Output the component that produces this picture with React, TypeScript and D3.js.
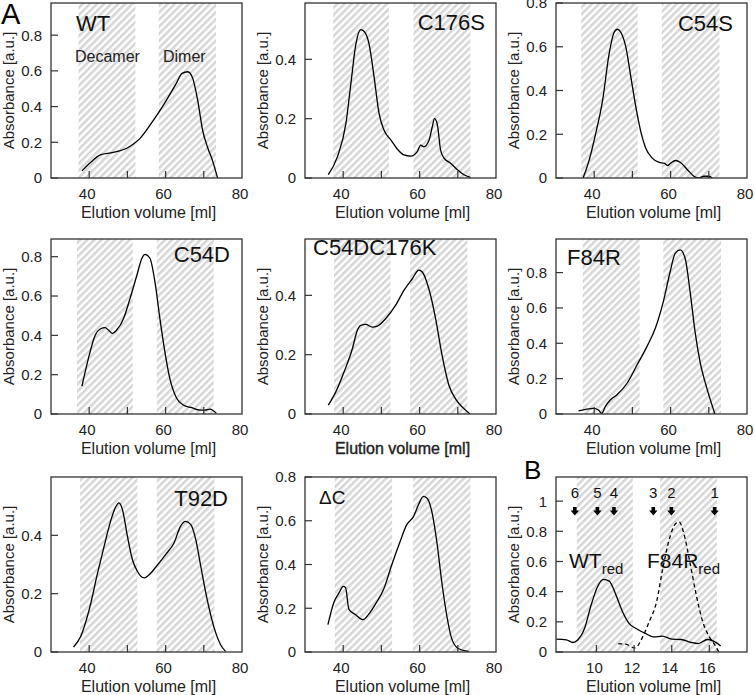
import React from 'react';
import * as d3 from 'd3';

// ---------- data ----------
const WT_VOL = [38.1, 40.5, 42.9, 46.3, 50.2, 53.2, 56.7, 60.2, 62.8, 64.3, 65.8, 67.1, 68.4, 69.7, 71.0, 72.3, 73.6];
const WT_ABS = [0.04, 0.09, 0.13, 0.143, 0.171, 0.219, 0.32, 0.435, 0.53, 0.586, 0.595, 0.558, 0.435, 0.266, 0.171, 0.096, 0];

const C176S_VOL = [36.1, 38.5, 40.7, 42.0, 43.3, 44.6, 45.5, 46.8, 48.1, 49.4, 50.7, 52.5, 54.2, 55.9, 57.7, 59.4, 60.3, 61.1, 62.5, 63.3, 63.9, 64.6, 65.5, 66.4, 68.1, 69.9, 71.6, 73.3];
const C176S_ABS = [0.011, 0.072, 0.183, 0.317, 0.45, 0.5, 0.494, 0.45, 0.339, 0.217, 0.161, 0.128, 0.097, 0.078, 0.074, 0.089, 0.111, 0.105, 0.128, 0.172, 0.2, 0.183, 0.094, 0.067, 0.05, 0.028, 0.011, 0.002];

const C54S_VOL = [37.1, 38.7, 40.4, 42.2, 43.9, 45.2, 46.1, 47.0, 48.3, 49.6, 50.9, 52.2, 53.5, 55.2, 57.0, 58.3, 59.2, 60.0, 61.3, 62.6, 64.4, 66.1, 67.4, 68.7, 70.0, 70.9];
const C54S_ABS = [0, 0.083, 0.204, 0.355, 0.567, 0.665, 0.68, 0.665, 0.597, 0.461, 0.325, 0.212, 0.136, 0.091, 0.071, 0.068, 0.057, 0.068, 0.08, 0.071, 0.038, 0.008, 0, 0.008, 0.008, 0];

const C54D_VOL = [38.1, 39.8, 41.6, 42.9, 44.2, 45.0, 46.1, 47.2, 49.0, 50.7, 52.5, 53.8, 54.6, 55.9, 57.2, 58.5, 59.8, 61.1, 62.9, 64.6, 66.8, 69.0, 70.3, 71.6, 73.3];
const C54D_ABS = [0.142, 0.283, 0.402, 0.432, 0.439, 0.427, 0.41, 0.427, 0.486, 0.588, 0.707, 0.792, 0.812, 0.792, 0.673, 0.486, 0.317, 0.181, 0.08, 0.046, 0.032, 0.02, 0.02, 0.025, 0.003];

const C54DC176K_VOL = [36.1, 38.0, 40.2, 42.4, 43.7, 44.6, 45.9, 47.6, 48.9, 51.1, 53.7, 55.9, 58.1, 59.8, 60.7, 62.4, 64.2, 65.9, 67.7, 69.4, 71.2, 73.2];
const C54DC176K_ABS = [0.03, 0.073, 0.141, 0.22, 0.282, 0.299, 0.302, 0.293, 0.296, 0.321, 0.366, 0.417, 0.456, 0.485, 0.479, 0.423, 0.321, 0.197, 0.096, 0.051, 0.023, 0];

const F84R_VOL = [35.9, 38.1, 39.8, 41.1, 42.0, 42.9, 44.2, 45.9, 48.6, 51.2, 53.8, 56.0, 58.1, 59.9, 61.2, 62.5, 63.8, 65.1, 66.4, 67.7, 69.5, 71.6];
const F84R_ABS = [0.017, 0.028, 0.032, 0.023, 0.004, 0.042, 0.079, 0.108, 0.174, 0.277, 0.381, 0.485, 0.636, 0.806, 0.909, 0.928, 0.881, 0.692, 0.466, 0.296, 0.145, 0];

const T92D_VOL = [35.9, 37.8, 40.0, 42.2, 43.9, 45.7, 47.0, 47.8, 48.7, 50.0, 51.3, 52.6, 54.4, 55.7, 57.9, 60.0, 62.2, 63.9, 65.2, 66.6, 67.9, 69.2, 70.9, 72.6, 74.4, 75.7];
const T92D_ABS = [0.017, 0.054, 0.145, 0.271, 0.362, 0.453, 0.499, 0.511, 0.488, 0.397, 0.317, 0.277, 0.254, 0.265, 0.299, 0.334, 0.374, 0.431, 0.448, 0.437, 0.385, 0.294, 0.179, 0.088, 0.025, 0.002];

const DC_VOL = [36.0, 37.6, 38.9, 40.0, 40.6, 41.5, 43.2, 45.2, 46.6, 48.8, 50.5, 52.7, 54.9, 56.6, 58.4, 59.7, 61.0, 61.9, 63.2, 64.5, 65.8, 67.1, 68.4, 70.2, 72.8];
const DC_ABS = [0.125, 0.229, 0.27, 0.3, 0.295, 0.195, 0.171, 0.148, 0.171, 0.229, 0.283, 0.398, 0.505, 0.581, 0.619, 0.673, 0.711, 0.704, 0.642, 0.505, 0.321, 0.168, 0.061, 0.015, 0.003];

const WTRED_VOL = [7.86, 8.4, 8.75, 9.0, 9.37, 9.72, 10.07, 10.37, 10.68, 11.03, 11.38, 11.73, 12.08, 12.6, 13.04, 13.5, 14.0, 14.5, 15.04, 15.4, 15.9, 16.3, 16.6];
const WTRED_ABS = [0.085, 0.08, 0.063, 0.079, 0.157, 0.313, 0.436, 0.481, 0.47, 0.38, 0.268, 0.19, 0.157, 0.123, 0.1, 0.105, 0.085, 0.083, 0.063, 0.056, 0.083, 0.067, 0.04];

const F84RRED_VOL = [11.16, 11.6, 12.03, 12.5, 12.8, 13.2, 13.5, 13.85, 14.2, 14.4, 14.6, 14.95, 15.3, 15.65, 16.0, 16.3, 16.5];
const F84RRED_ABS = [0.056, 0.05, 0.027, 0.112, 0.2, 0.336, 0.537, 0.738, 0.85, 0.862, 0.805, 0.604, 0.38, 0.2, 0.1, 0.045, 0];

const MARKER_VOL = [8.85, 10.05, 10.93, 13.02, 13.98, 16.28];
const MARKER_LABELS = ['6', '5', '4', '3', '2', '1'];

const X_TICKS_A = [40, 50, 60, 70];
const X_LABELS_A = [40, 60, 80];
const X_TICKS_B = [10, 12, 14, 16];

// ---------- layout ----------
const COL_X = [51, 305, 556];
const ROW_Y = [3, 239, 477];
const PW = 191;
const PH = 175;
const FONT = "'Liberation Sans', Arial, Helvetica, sans-serif";

type Series = { vol: number[]; abs: number[]; dashed?: boolean };
type Panel = {
  key: string;
  col: number;
  row: number;
  xDomain: [number, number];
  yMax: number;
  yTicks: number[];
  xTicks: number[];
  xLabels: number[];
  regions: [number, number][];
  series: Series[];
  label?: string;
  labelDx?: number;
  labelDy?: number;
  labelAnchor?: 'start' | 'end';
  labelSize?: number;
  boldAxis?: boolean;
};

const panels: Panel[] = [
  { key: 'wt', col: 0, row: 0, xDomain: [30, 80], yMax: 0.98, yTicks: [0, 0.2, 0.4, 0.6, 0.8], xTicks: X_TICKS_A, xLabels: X_LABELS_A,
    regions: [[37.2, 52.1], [58.2, 73.2]], series: [{ vol: WT_VOL, abs: WT_ABS }], label: 'WT', labelDx: 25, labelDy: 28, labelAnchor: 'start' },
  { key: 'c176s', col: 1, row: 0, xDomain: [30, 80], yMax: 0.59, yTicks: [0, 0.2, 0.4], xTicks: X_TICKS_A, xLabels: X_LABELS_A,
    regions: [[37.4, 52.0], [58.4, 73.3]], series: [{ vol: C176S_VOL, abs: C176S_ABS }], label: 'C176S', labelDx: 180, labelDy: 27, labelAnchor: 'end' },
  { key: 'c54s', col: 2, row: 0, xDomain: [30, 80], yMax: 0.8, yTicks: [0, 0.2, 0.4, 0.6, 0.8], xTicks: X_TICKS_A, xLabels: X_LABELS_A,
    regions: [[36.6, 51.4], [57.7, 72.8]], series: [{ vol: C54S_VOL, abs: C54S_ABS }], label: 'C54S', labelDx: 177, labelDy: 28, labelAnchor: 'end' },
  { key: 'c54d', col: 0, row: 1, xDomain: [30, 80], yMax: 0.89, yTicks: [0, 0.2, 0.4, 0.6, 0.8], xTicks: X_TICKS_A, xLabels: X_LABELS_A,
    regions: [[36.8, 51.4], [57.7, 72.6]], series: [{ vol: C54D_VOL, abs: C54D_ABS }], label: 'C54D', labelDx: 179, labelDy: 23, labelAnchor: 'end' },
  { key: 'c54dc176k', col: 1, row: 1, xDomain: [30, 80], yMax: 0.59, yTicks: [0, 0.2, 0.4], xTicks: X_TICKS_A, xLabels: X_LABELS_A,
    regions: [[37.6, 52.4], [57.5, 72.5]], series: [{ vol: C54DC176K_VOL, abs: C54DC176K_ABS }], label: 'C54DC176K', labelDx: 8, labelDy: 16, labelAnchor: 'start', boldAxis: true },
  { key: 'f84r', col: 2, row: 1, xDomain: [30, 80], yMax: 0.99, yTicks: [0, 0.2, 0.4, 0.6, 0.8], xTicks: X_TICKS_A, xLabels: X_LABELS_A,
    regions: [[37.0, 51.9], [58.1, 73.2]], series: [{ vol: F84R_VOL, abs: F84R_ABS }], label: 'F84R', labelDx: 11, labelDy: 26, labelAnchor: 'start' },
  { key: 't92d', col: 0, row: 2, xDomain: [30, 80], yMax: 0.6, yTicks: [0, 0.2, 0.4], xTicks: X_TICKS_A, xLabels: X_LABELS_A,
    regions: [[37.6, 52.6], [57.7, 72.8]], series: [{ vol: T92D_VOL, abs: T92D_ABS }], label: 'T92D', labelDx: 177, labelDy: 29, labelAnchor: 'end' },
  { key: 'dc', col: 1, row: 2, xDomain: [30, 80], yMax: 0.8, yTicks: [0, 0.2, 0.4, 0.6, 0.8], xTicks: X_TICKS_A, xLabels: X_LABELS_A,
    regions: [[37.8, 52.8], [58.3, 73.3]], series: [{ vol: DC_VOL, abs: DC_ABS }], label: '\u0394C', labelDx: 14, labelDy: 27, labelAnchor: 'start', labelSize: 19 },
  { key: 'b', col: 2, row: 2, xDomain: [7.85, 18], yMax: 1.16, yTicks: [0, 0.2, 0.4, 0.6, 0.8, 1], xTicks: X_TICKS_B, xLabels: X_TICKS_B,
    regions: [[8.95, 11.93], [13.38, 16.4]], series: [{ vol: WTRED_VOL, abs: WTRED_ABS }, { vol: F84RRED_VOL, abs: F84RRED_ABS, dashed: true }] },
];

const fmtY = (v: number) => (v === 0 ? '0' : v === 1 ? '1' : String(v));

function PanelView({ p }: { p: Panel }) {
  const x0 = COL_X[p.col];
  const y0 = ROW_Y[p.row];
  const x = d3.scaleLinear().domain(p.xDomain).range([x0, x0 + PW]);
  const y = d3.scaleLinear().domain([0, p.yMax]).range([y0 + PH, y0]);
  const line = d3
    .line<[number, number]>()
    .x((d) => x(d[0]))
    .y((d) => y(d[1]))
    .curve(d3.curveMonotoneX);
  const clipId = `clip-${p.key}`;
  return (
    <g>
      <defs>
        <clipPath id={clipId}>
          <rect x={x0} y={y0} width={PW} height={PH} />
        </clipPath>
      </defs>
      {p.regions.map(([a, b], i) => (
        <rect key={i} x={x(a)} y={y0} width={x(b) - x(a)} height={PH} fill="url(#hatch)" />
      ))}
      {p.series.map((s, i) => (
        <path
          key={i}
          d={line(s.vol.map((v, j) => [v, s.abs[j]] as [number, number])) || ''}
          fill="none"
          stroke="#000"
          strokeWidth={1.3}
          strokeDasharray={s.dashed ? '4,3' : undefined}
          clipPath={`url(#${clipId})`}
        />
      ))}
      <rect x={x0} y={y0} width={PW} height={PH} fill="none" stroke="#333" strokeWidth={1.3} />
      {p.yTicks.map((t) => (
        <g key={`y${t}`}>
          <line x1={x0} x2={x0 + 7} y1={y(t)} y2={y(t)} stroke="#333" strokeWidth={1.2} />
          <text x={x0 - 9} y={y(t)} dy="0.36em" textAnchor="end" fontSize={15} fill="#222">
            {fmtY(t)}
          </text>
        </g>
      ))}
      {p.xTicks.map((t) => (
        <line key={`x${t}`} x1={x(t)} x2={x(t)} y1={y0 + PH} y2={y0 + PH - 7} stroke="#333" strokeWidth={1.2} />
      ))}
      {p.xLabels.map((t) => (
        <text key={`xl${t}`} x={x(t) - 2} y={y0 + PH + 21} textAnchor="middle" fontSize={15} fill="#222">
          {t}
        </text>
      ))}
      <text
        x={x0 + PW / 2 + 2}
        y={y0 + PH + 40}
        textAnchor="middle"
        fontSize={16}
        fill="#222"
        stroke={p.boldAxis ? '#222' : undefined}
        strokeWidth={p.boldAxis ? 0.4 : undefined}
      >
        Elution volume [ml]
      </text>
      <text
        transform={`translate(${x0 - 37},${y0 + PH / 2}) rotate(-90)`}
        textAnchor="middle"
        fontSize={15}
        fill="#222"
      >
        Absorbance [a.u.]
      </text>
      {p.label && (
        <text
          x={x0 + (p.labelDx || 0)}
          y={y0 + (p.labelDy || 0)}
          textAnchor={p.labelAnchor}
          fontSize={p.labelSize || 22}
          fill="#111"
        >
          {p.label}
        </text>
      )}
    </g>
  );
}

function ArrowMarks({ p }: { p: Panel }) {
  const x0 = COL_X[p.col];
  const y0 = ROW_Y[p.row];
  const x = d3.scaleLinear().domain(p.xDomain).range([x0, x0 + PW]);
  return (
    <g>
      {MARKER_VOL.map((v, i) => {
        const cx = x(v);
        const top = y0 + 30;
        return (
          <g key={i}>
            <text x={cx} y={y0 + 21} textAnchor="middle" fontSize={15} fill="#111">
              {MARKER_LABELS[i]}
            </text>
            <path
              d={`M${cx - 1.8},${top} L${cx + 1.8},${top} L${cx + 1.8},${top + 3.5} L${cx + 4.2},${top + 3.5} L${cx},${top + 8.5} L${cx - 4.2},${top + 3.5} L${cx - 1.8},${top + 3.5} Z`}
              fill="#000"
            />
          </g>
        );
      })}
      <text x={569} y={568} fontSize={21} fill="#111">
        WT
        <tspan fontSize={15} dy={6}>red</tspan>
      </text>
      <text x={647} y={568} fontSize={21} fill="#111">
        F84R
        <tspan fontSize={15} dy={6}>red</tspan>
      </text>
    </g>
  );
}

export default function App() {
  const bPanel = panels[8];
  return (
    <svg
      width={755}
      height={695}
      style={{ position: 'absolute', left: 0, top: 0, fontFamily: FONT, background: '#fff' }}
    >
      <defs>
        <pattern id="hatch" patternUnits="userSpaceOnUse" width={5} height={5} patternTransform="rotate(45)">
          <rect x={0} y={0} width={2.6} height={5} fill="#d6d6d6" />
        </pattern>
      </defs>
      <rect x={0} y={0} width={755} height={695} fill="#fff" />
      {panels.map((p) => (
        <PanelView key={p.key} p={p} />
      ))}
      <ArrowMarks p={bPanel} />
      <text x={75} y={62} fontSize={16} fill="#222">Decamer</text>
      <text x={163} y={62} fontSize={16} fill="#222">Dimer</text>
      <text x={1} y={24} fontSize={29} fill="#000">A</text>
      <text x={524} y={479} fontSize={26} fill="#000">B</text>
    </svg>
  );
}
